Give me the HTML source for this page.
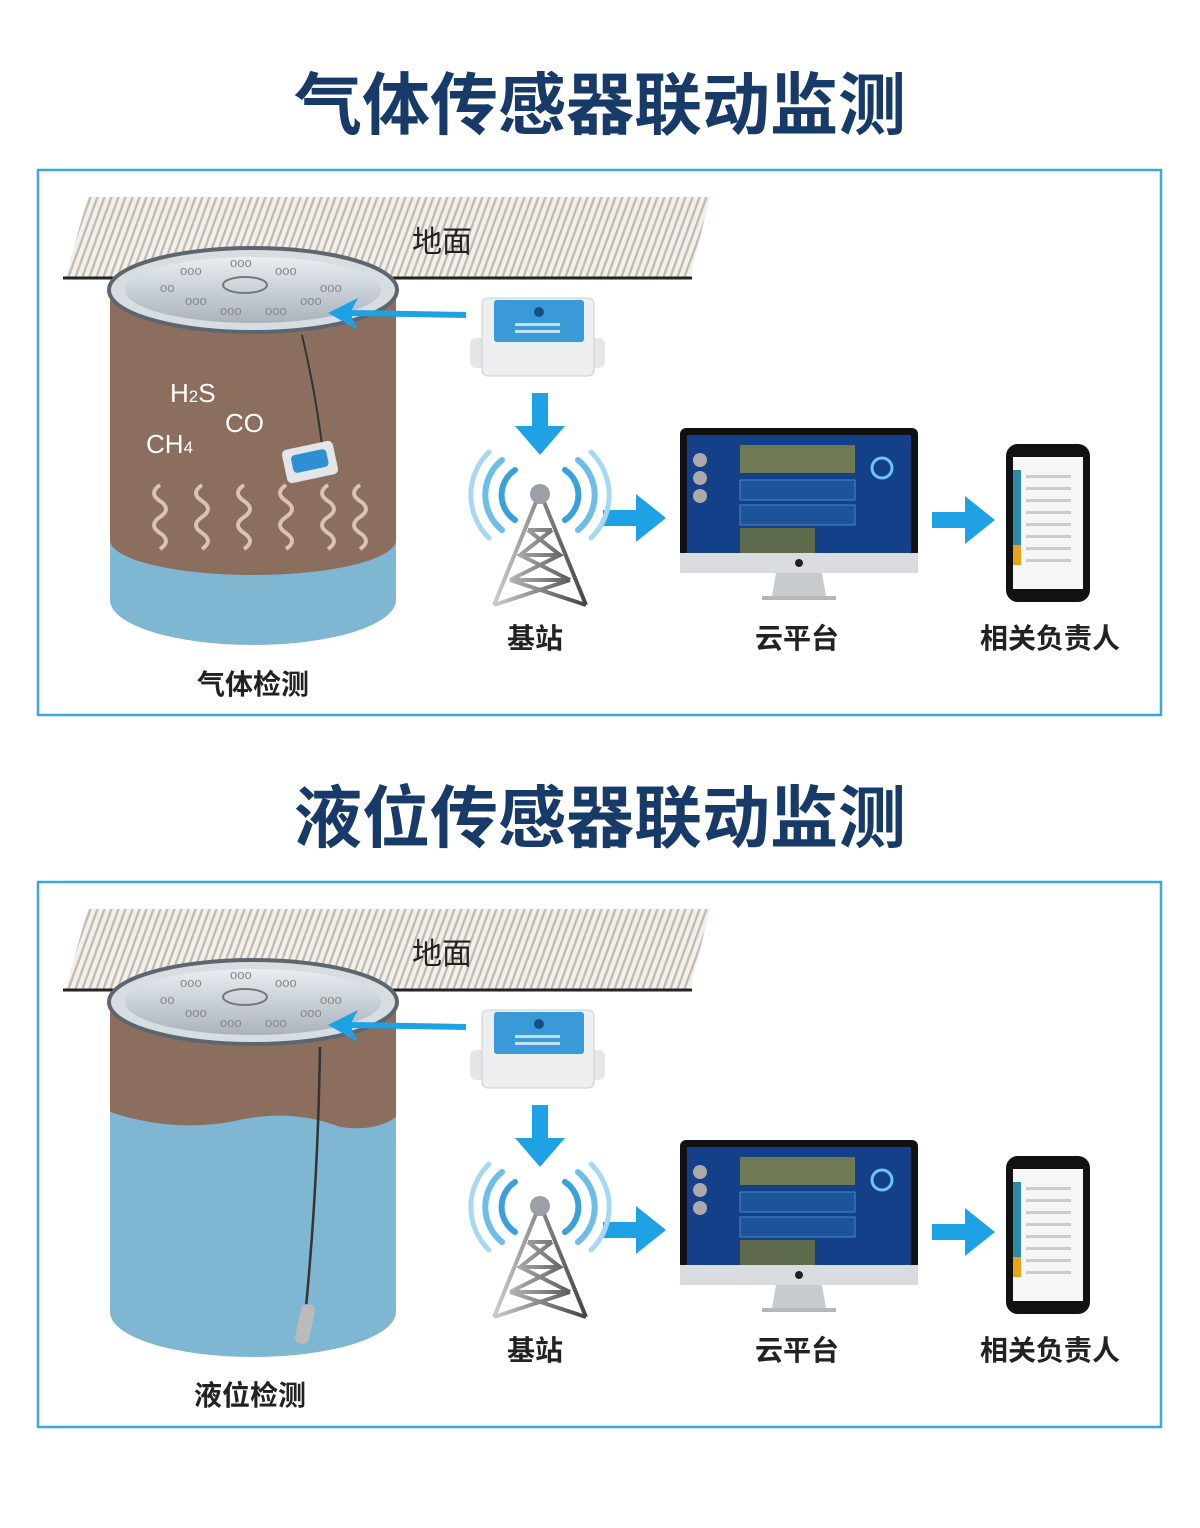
<!DOCTYPE html>
<html><head><meta charset="utf-8"><style>
html,body{margin:0;padding:0;background:#fff}
svg{display:block}
text{font-family:"Liberation Sans","Noto Sans CJK SC",sans-serif}
</style></head><body>
<svg width="1200" height="1528" viewBox="0 0 1200 1528" xmlns="http://www.w3.org/2000/svg">
<defs>
<pattern id="hatch" width="7" height="10" patternUnits="userSpaceOnUse" patternTransform="skewX(-20)">
<rect width="7" height="10" fill="#f3efe9"/><rect width="2.5" height="10" fill="#c2bbb3"/>
</pattern>
<linearGradient id="lid" x1="0" y1="0" x2="0" y2="1"><stop offset="0" stop-color="#e9eef2"/><stop offset="1" stop-color="#aab3bc"/></linearGradient>
<linearGradient id="tw" x1="0" x2="1"><stop offset="0" stop-color="#ccc"/><stop offset="1" stop-color="#444"/></linearGradient>
<g id="common">
  <rect x="38" y="170" width="1123" height="545" fill="none" stroke="#39a8e0" stroke-width="2.5"/>
  <polygon points="88,197 710,197 690,278 65,278" fill="url(#hatch)"/>
  <line x1="63" y1="278" x2="692" y2="278" stroke="#222" stroke-width="3"/>
  <text x="412" y="252" font-size="30" fill="#222">地面</text>
  <!-- device -->
  <rect x="470" y="338" width="135" height="30" rx="6" fill="#e4e6e8"/>
  <rect x="482" y="298" width="112" height="78" rx="6" fill="#eceeef" stroke="#c9cdd0"/>
  <rect x="494" y="300" width="90" height="42" rx="3" fill="#3a9ad8"/>
  <circle cx="539" cy="312" r="5" fill="#1b4e86"/>
  <rect x="515" y="323" width="45" height="3" fill="#bfe0f5"/><rect x="515" y="330" width="45" height="3" fill="#bfe0f5"/>
  <rect x="532" y="393" width="16" height="35" fill="#1fa1e6"/><polygon points="515,426 565,426 540,455" fill="#1fa1e6"/>
  <rect x="603" y="510" width="35" height="16" fill="#1fa1e6"/><polygon points="636,494 666,518 636,542" fill="#1fa1e6"/>
  <rect x="932" y="512" width="35" height="16" fill="#1fa1e6"/><polygon points="965,496 995,520 965,544" fill="#1fa1e6"/>
  <!-- tower -->
  <g fill="none" stroke="#3aa0dc" stroke-linecap="round">
    <path d="M515,470 A30,30 0 0 0 515,520" stroke-width="6"/><path d="M565,470 A30,30 0 0 1 565,520" stroke-width="6"/>
    <path d="M502,460 A45,45 0 0 0 502,530" stroke-width="6" stroke="#6cbde8"/><path d="M578,460 A45,45 0 0 1 578,530" stroke-width="6" stroke="#6cbde8"/>
    <path d="M489,452 A60,60 0 0 0 489,538" stroke-width="5" stroke="#a6d8f2"/><path d="M591,452 A60,60 0 0 1 591,538" stroke-width="5" stroke="#a6d8f2"/>
  </g>
  <g stroke="url(#tw)" stroke-width="4" fill="none">
    <path d="M536,502 L494,605 M544,502 L586,605 M528,530 L552,530 M520,555 L560,555 M510,580 L570,580 M528,530 L560,555 L510,580 M552,530 L520,555 L570,580 M510,580 L586,605 M570,580 L494,605"/>
  </g>
  <circle cx="540" cy="494" r="10" fill="#9aa0a6"/>
  <!-- monitor -->
  <rect x="680" y="428" width="238" height="145" rx="6" fill="#111"/>
  <rect x="687" y="435" width="224" height="118" fill="#14408a"/>
  <rect x="740" y="445" width="115" height="28" fill="#6f7a55"/>
  <rect x="740" y="480" width="115" height="20" fill="#1d5399" stroke="#4a86c8"/>
  <rect x="740" y="505" width="115" height="20" fill="#1d5399" stroke="#4a86c8"/>
  <rect x="740" y="528" width="75" height="25" fill="#5d6b4c"/>
  <circle cx="700" cy="460" r="7" fill="#aaa"/><circle cx="700" cy="478" r="7" fill="#aaa"/><circle cx="700" cy="496" r="7" fill="#aaa"/>
  <circle cx="882" cy="468" r="10" fill="none" stroke="#6ec4f0" stroke-width="3"/>
  <rect x="680" y="553" width="238" height="20" fill="#d9dcdf"/>
  <circle cx="799" cy="563" r="4" fill="#222"/>
  <polygon points="776,573 822,573 826,596 772,596" fill="#c8cbce"/>
  <rect x="762" y="596" width="74" height="4" fill="#b5b8bb"/>
  <!-- phone -->
  <rect x="1006" y="444" width="84" height="158" rx="12" fill="#111"/>
  <rect x="1013" y="457" width="70" height="132" fill="#f6f6f6"/>
  <rect x="1013" y="470" width="8" height="75" fill="#2a8aa8"/><rect x="1013" y="545" width="8" height="20" fill="#e8a21c"/>
  <g fill="#ccc"><rect x="1026" y="475" width="45" height="3"/><rect x="1026" y="487" width="45" height="3"/><rect x="1026" y="499" width="45" height="3"/><rect x="1026" y="511" width="45" height="3"/><rect x="1026" y="523" width="45" height="3"/><rect x="1026" y="535" width="45" height="3"/><rect x="1026" y="547" width="45" height="3"/><rect x="1026" y="559" width="45" height="3"/></g>
  <text x="535" y="648" font-size="28" font-weight="bold" fill="#222" text-anchor="middle">基站</text>
  <text x="797" y="648" font-size="28" font-weight="bold" fill="#222" text-anchor="middle">云平台</text>
  <text x="1050" y="648" font-size="28" font-weight="bold" fill="#222" text-anchor="middle">相关负责人</text>
</g>
<g id="lidg">
  <ellipse cx="253" cy="290" rx="144" ry="42" fill="#d8dde2" stroke="#5d6670" stroke-width="4"/>
  <ellipse cx="253" cy="290" rx="128" ry="33" fill="url(#lid)"/>
  <ellipse cx="245" cy="285" rx="22" ry="8" fill="none" stroke="#777" stroke-width="2"/>
  <g fill="#888" font-size="13"><text x="180" y="275">ooo</text><text x="230" y="267">ooo</text><text x="275" y="275">ooo</text><text x="160" y="292">oo</text><text x="320" y="292">ooo</text><text x="185" y="305">ooo</text><text x="220" y="315">ooo</text><text x="265" y="315">ooo</text><text x="300" y="305">ooo</text></g>
</g>
<g id="larrow">
  <line x1="466" y1="315" x2="350" y2="313" stroke="#1fa1e6" stroke-width="6"/>
  <polygon points="328,313 358,298 350,313 358,330" fill="#1fa1e6"/>
</g>
</defs>

<text x="600" y="129" font-size="68" font-weight="bold" fill="#173a68" text-anchor="middle">气体传感器联动监测</text>
<use href="#common"/>
<path d="M110,290 L110,600 A143,45 0 0 0 396,600 L396,290 Z" fill="#7fb7d3"/>
<path d="M110,290 L110,540 A143,35 0 0 0 396,540 L396,290 Z" fill="#8b6e5e"/>
<use href="#lidg"/>
<use href="#larrow"/>
<g fill="none" stroke="#d8c3b6" stroke-width="4">
<path d="M160,485 q-12,8 0,16 q12,8 0,16 q-12,8 0,16 q12,8 0,16"/><path d="M202,485 q-12,8 0,16 q12,8 0,16 q-12,8 0,16 q12,8 0,16"/><path d="M244,485 q-12,8 0,16 q12,8 0,16 q-12,8 0,16 q12,8 0,16"/><path d="M286,485 q-12,8 0,16 q12,8 0,16 q-12,8 0,16 q12,8 0,16"/><path d="M328,485 q-12,8 0,16 q12,8 0,16 q-12,8 0,16 q12,8 0,16"/><path d="M360,485 q-12,8 0,16 q12,8 0,16 q-12,8 0,16 q12,8 0,16"/>
</g>
<path d="M302,335 Q315,390 322,445" stroke="#333" stroke-width="2" fill="none"/>
<rect x="284" y="445" width="52" height="34" rx="5" fill="#e2e6ea" transform="rotate(-12 310 462)"/>
<rect x="292" y="452" width="36" height="18" rx="4" fill="#2f8fd4" transform="rotate(-12 310 462)"/>
<text x="170" y="402" font-size="26" fill="#fff">H<tspan font-size="17">2</tspan>S</text>
<text x="225" y="432" font-size="26" fill="#fff">CO</text>
<text x="146" y="453" font-size="26" fill="#fff">CH<tspan font-size="17">4</tspan></text>
<text x="253" y="694" font-size="28" font-weight="bold" fill="#222" text-anchor="middle">气体检测</text>

<text x="600" y="842" font-size="68" font-weight="bold" fill="#173a68" text-anchor="middle">液位传感器联动监测</text>
<g transform="translate(0,712)">
<use href="#common"/>
<path d="M110,290 L110,600 A143,45 0 0 0 396,600 L396,290 Z" fill="#7fb7d3"/>
<path d="M110,290 L110,400 Q170,420 230,410 Q290,395 340,415 Q375,420 396,405 L396,290 Z" fill="#8b6e5e"/>
<use href="#lidg"/>
<use href="#larrow"/>
<path d="M320,335 Q318,470 306,595" stroke="#333" stroke-width="2.5" fill="none"/>
<rect x="298" y="592" width="14" height="40" rx="6" fill="#bbb" transform="rotate(12 305 612)"/>
<text x="250" y="693" font-size="28" font-weight="bold" fill="#222" text-anchor="middle">液位检测</text>
</g>
</svg>
</body></html>
